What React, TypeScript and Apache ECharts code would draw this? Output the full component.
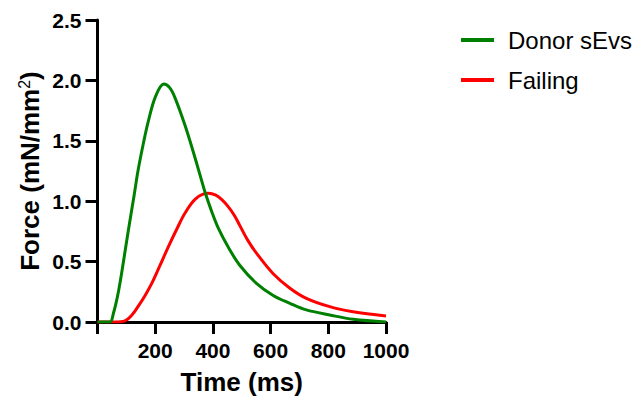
import React, { useEffect, useRef } from "react";
import * as echarts from "echarts";

const xTicks = [0, 200, 400, 600, 800, 1000];
const yTicks = [0, 0.5, 1.0, 1.5, 2.0, 2.5];

const donorTime = [0, 43, 55, 70, 84, 107, 127, 141, 160, 176, 200, 230, 250, 268, 303, 338, 355, 372, 395, 420, 453, 493, 551, 609, 667, 724, 805, 886, 1000];
const donorForce = [0, 0, 0.07, 0.22, 0.41, 0.76, 1.05, 1.26, 1.49, 1.66, 1.86, 1.97, 1.94, 1.86, 1.63, 1.36, 1.22, 1.08, 0.92, 0.77, 0.62, 0.47, 0.32, 0.22, 0.155, 0.1, 0.058, 0.022, 0.0];

const failingTime = [0, 60, 95, 120, 141, 165, 188, 215, 245, 275, 303, 340, 384, 410, 430, 453, 475, 493, 520, 551, 609, 667, 724, 805, 886, 1000];
const failingForce = [0, 0, 0.01, 0.06, 0.13, 0.22, 0.32, 0.46, 0.62, 0.77, 0.9, 1.02, 1.065, 1.05, 1.015, 0.955, 0.88, 0.8, 0.68, 0.57, 0.4, 0.28, 0.196, 0.127, 0.085, 0.05];

const seriesNames = ["Donor sEvs", "Failing"];

const FONT = "'Liberation Sans', Arial, sans-serif";

export default function App() {
  const ref = useRef<HTMLDivElement>(null);
  useEffect(() => {
    if (!ref.current) return;
    const chart = echarts.init(ref.current, undefined, { renderer: "svg" });
    const zip = (xs: number[], ys: number[]) => xs.map((x, i) => [x, ys[i]]);
    chart.setOption({
      animation: false,
      backgroundColor: "#ffffff",
      textStyle: { fontFamily: FONT },
      grid: { left: 97.5, right: 255, top: 20, bottom: 88 },
      legend: {
        orient: "vertical",
        left: 456,
        top: 21,
        data: seriesNames,
        icon: "rect",
        itemWidth: 33,
        itemHeight: 4,
        itemGap: 12,
        textStyle: {
          fontFamily: FONT,
          fontSize: 24,
          color: "#000",
          lineHeight: 28,
          padding: [0, 0, 0, 9],
        },
      },
      xAxis: {
        type: "value",
        min: xTicks[0],
        max: xTicks[xTicks.length - 1],
        interval: 200,
        name: "Time (ms)",
        nameLocation: "middle",
        nameGap: 47,
        nameTextStyle: { fontFamily: FONT, fontSize: 26, fontWeight: "bold", color: "#000" },
        axisLine: { show: true, lineStyle: { color: "#000", width: 3 } },
        axisTick: { show: true, length: 12, lineStyle: { color: "#000", width: 3 } },
        axisLabel: {
          fontFamily: FONT,
          fontSize: 21,
          fontWeight: "bold",
          color: "#000",
          margin: 18,
          formatter: (v: number) => (v === 0 ? "" : String(v)),
        },
        splitLine: { show: false },
      },
      yAxis: {
        type: "value",
        min: yTicks[0],
        max: yTicks[yTicks.length - 1],
        interval: 0.5,
        name: "{a|Force (mN/mm}{s|2}{a|)}",
        nameLocation: "middle",
        nameGap: 54,
        nameTextStyle: {
          rich: {
            a: { fontFamily: FONT, fontSize: 26, fontWeight: "bold", color: "#000" },
            s: { fontFamily: FONT, fontSize: 16, color: "#000", padding: [0, 0, 11, 0] },
          },
        },
        axisLine: { show: true, lineStyle: { color: "#000", width: 3 } },
        axisTick: { show: true, length: 12, lineStyle: { color: "#000", width: 3 } },
        axisLabel: {
          fontFamily: FONT,
          fontSize: 21,
          fontWeight: "bold",
          color: "#000",
          margin: 16,
          formatter: (v: number) => v.toFixed(1),
        },
        splitLine: { show: false },
      },
      series: [
        {
          name: seriesNames[1],
          type: "line",
          data: zip(failingTime, failingForce),
          showSymbol: false,
          smooth: 0.35,
          color: "#ff0000",
          lineStyle: { color: "#ff0000", width: 3 },
          z: 2,
        },
        {
          name: seriesNames[0],
          type: "line",
          data: zip(donorTime, donorForce),
          showSymbol: false,
          smooth: 0.35,
          color: "#008000",
          lineStyle: { color: "#008000", width: 3 },
          z: 3,
        },
      ],
    });
    return () => chart.dispose();
  }, []);
  return (
    <div
      ref={ref}
      style={{ position: "absolute", left: 0, top: 0, width: 641, height: 410 }}
    />
  );
}
